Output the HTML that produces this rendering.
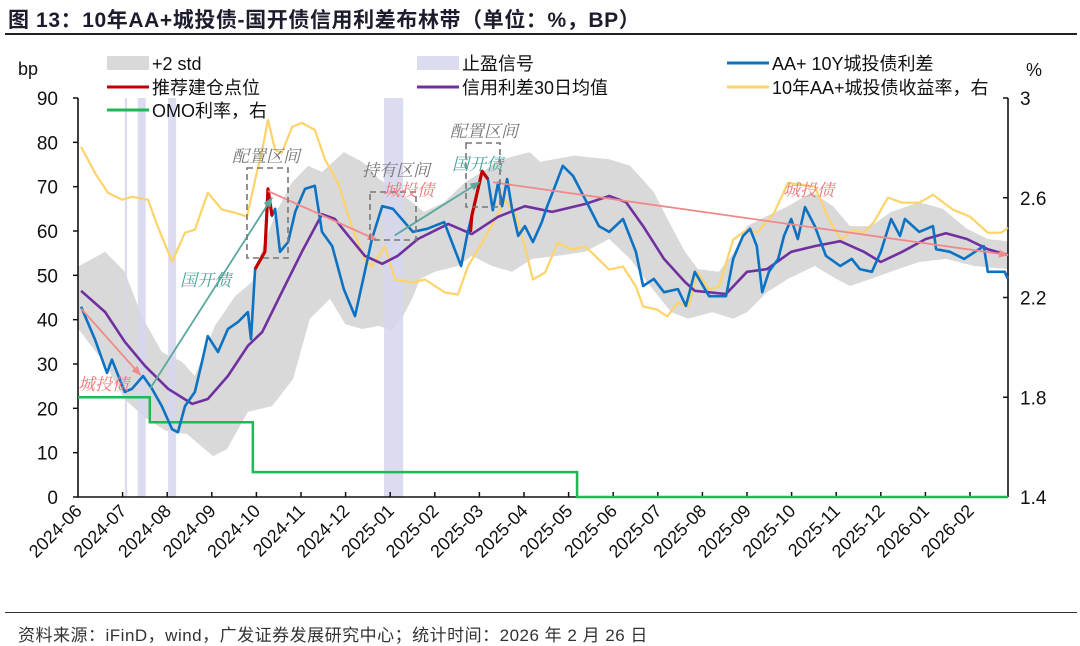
<!DOCTYPE html>
<html><head><meta charset="utf-8">
<style>
html,body{margin:0;padding:0;background:#fff;}
body{width:1080px;height:646px;position:relative;overflow:hidden;font-family:"Liberation Sans","Noto Sans CJK SC",sans-serif;}
#title{position:absolute;left:8px;top:4px;font-size:21px;font-weight:bold;color:#1c1c2c;white-space:nowrap;letter-spacing:0.6px;}
#tline{position:absolute;left:5px;top:33px;width:1072px;height:2px;background:#222;}
#fline{position:absolute;left:5px;top:612px;width:1072px;height:1px;background:#333;}
#src{position:absolute;left:18px;top:621px;font-size:17px;color:#333;white-space:nowrap;letter-spacing:0.5px;}
svg{position:absolute;left:0;top:0;}
</style></head><body>
<div id="title">图 13：10年AA+城投债-国开债信用利差布林带（单位：%，BP）</div>
<div id="tline"></div>
<svg id="chart" width="1080" height="646"></svg>
<div id="fline"></div>
<div id="src">资料来源：iFinD，wind，广发证券发展研究中心；统计时间：2026 年 2 月 26 日</div>
<script>
// ---- data (t = months since 2024-06) ----
const monthLabels=["2024-06","2024-07","2024-08","2024-09","2024-10","2024-11","2024-12","2025-01","2025-02","2025-03","2025-04","2025-05","2025-06","2025-07","2025-08","2025-09","2025-10","2025-11","2025-12","2026-01","2026-02"];
const leftTicks=[0,10,20,30,40,50,60,70,80,90];
const rightTicks=[1.4,1.8,2.2,2.6,3];
const rightTickLabels=["1.4","1.8","2.2","2.6","3"];
const blueT=[0.07,0.38,0.56,0.65,0.76,1.05,1.21,1.46,1.66,1.88,2.11,2.24,2.40,2.62,2.78,2.91,3.14,3.36,3.59,3.81,3.88,3.97,4.19,4.26,4.35,4.42,4.53,4.71,4.87,5.09,5.31,5.47,5.70,5.96,6.21,6.43,6.59,6.82,7.06,7.51,7.83,8.21,8.59,8.74,8.83,9.06,9.19,9.30,9.42,9.51,9.62,9.73,9.87,10.02,10.20,10.40,10.52,10.70,10.87,11.10,11.37,11.68,11.91,12.22,12.51,12.67,12.91,13.14,13.45,13.63,13.83,14.15,14.53,14.69,14.91,15.07,15.22,15.34,15.49,15.70,15.83,15.99,16.14,16.30,16.52,16.77,17.09,17.35,17.53,17.80,18.00,18.23,18.43,18.54,18.86,19.17,19.24,19.55,19.87,20.31,20.40,20.78,20.85];
const blueV=[42.9,35.6,30.5,28,31,23.7,24.4,27.3,24.4,20.5,15.3,14.6,20.5,23.7,30.5,36.3,32.7,37.9,39.5,41.7,35.6,51.4,55.3,69.5,63.4,65,55.3,57.5,64.3,69.5,70.2,59.8,56.6,46.9,40.8,50.8,58.2,65.6,65,59.8,60.5,62,52.1,59.8,63.4,73.5,71.7,64.7,70.9,65.6,71.7,65,58.9,61.1,57.5,62,65.6,70.2,74.7,72.4,67.2,61.1,59.8,62.7,55.3,47.6,49.2,46.2,46.9,43.1,50.8,45.3,45.3,53.7,58.9,60.5,56.6,46.2,50.8,53.7,58.9,62.7,58.2,65.4,61.1,54.4,52.1,53.7,51.4,50.8,55.3,62.7,58.9,62.7,59.8,61.1,55.9,55.3,53.7,56.6,50.8,50.8,49.2];
const red1T=[3.97,4.19,4.26,4.35];
const red1V=[51.4,55.3,69.5,63.4];
const red2T=[8.80,8.83,9.06,9.19];
const red2V=[59.8,63.4,73.5,71.7];
const purpleT=[0.07,0.61,1.05,1.50,2.02,2.56,2.91,3.36,3.81,4.13,4.57,5.02,5.47,5.76,5.99,6.43,6.82,7.17,7.62,8.30,8.83,9.42,10.02,10.63,11.37,11.91,12.29,12.67,13.14,13.61,13.83,14.53,15.00,15.45,15.99,16.52,17.09,17.62,18.00,18.48,19.01,19.46,19.93,20.40,20.85];
const purpleV=[46.5,41.7,35,29.6,24.4,21,22.1,27.3,34.1,37.2,46.2,55.3,63.8,62.7,59.8,54.4,52.6,54.4,58.2,61.6,59.3,63.2,65.6,64.3,66.1,67.9,66.5,61.1,53.7,48.5,46.5,45.8,50.8,51.4,55.3,56.6,57.7,55.3,53,55.3,58.2,59.5,58.2,55.9,54.6];
const yieldT=[0.07,0.38,0.67,0.99,1.21,1.57,1.79,2.11,2.40,2.62,2.91,3.23,3.52,3.79,3.97,4.13,4.26,4.42,4.57,4.80,5.02,5.31,5.54,5.83,6.14,6.43,6.59,6.88,7.11,7.49,7.78,8.23,8.52,8.74,9.06,9.35,9.57,9.80,10.02,10.20,10.47,10.76,11.08,11.37,11.52,11.91,12.22,12.51,12.67,12.98,13.21,13.45,13.68,13.90,14.15,14.37,14.69,15.00,15.22,15.61,15.92,16.23,16.52,16.84,17.11,17.38,17.62,17.85,18.16,18.48,18.86,19.17,19.62,20.00,20.40,20.70,20.85];
const yieldV=[2.804,2.70,2.62,2.592,2.604,2.592,2.484,2.344,2.46,2.472,2.62,2.552,2.54,2.524,2.672,2.792,2.912,2.792,2.78,2.884,2.9,2.872,2.752,2.66,2.484,2.352,2.324,2.404,2.272,2.26,2.272,2.22,2.212,2.324,2.42,2.512,2.592,2.54,2.404,2.272,2.3,2.42,2.392,2.404,2.38,2.312,2.324,2.244,2.164,2.152,2.124,2.18,2.164,2.3,2.232,2.244,2.432,2.472,2.46,2.54,2.66,2.652,2.644,2.512,2.432,2.472,2.46,2.504,2.6,2.58,2.58,2.612,2.552,2.524,2.46,2.46,2.48];
const upperT=[0,0.61,1.05,1.43,1.88,2.33,2.62,3.07,3.52,3.90,4.13,4.42,4.80,5.16,5.47,5.96,6.37,6.75,7.20,7.76,8.21,8.68,9.06,9.44,10.13,10.36,11.12,11.91,12.38,12.91,13.30,13.61,13.90,14.37,14.69,15.00,15.45,15.92,16.46,16.93,17.31,17.78,18.23,18.86,19.39,19.93,20.40,20.85];
const upperV=[52,55.3,50.8,40.8,32.7,30.5,27.3,38.6,45.3,48.5,55.9,63.8,71,74.7,73.3,77.8,75.6,71.7,68.8,64.3,66.5,71,73.3,76,77.8,75.6,77,76.2,74.7,68.8,61.1,55.3,51.4,50.8,55,61.1,63.4,65.6,68.8,65.6,61.1,61.1,64.3,66.5,65,60.5,58.2,57.7];
const lowerT=[0,0.61,1.05,1.50,1.95,2.44,3.03,3.34,3.81,4.35,4.82,5.20,5.65,5.99,6.37,6.75,7.04,7.29,7.49,7.67,8.00,8.52,8.83,9.28,9.73,10.18,10.76,11.37,11.91,12.38,12.83,13.30,13.68,14.22,14.69,15.00,15.45,15.92,16.52,17.00,17.31,17.78,18.39,18.86,19.46,20.09,20.85];
const lowerV=[38,30,22,18,15,14.2,9.2,10.8,19.2,20.5,26.6,40.2,44.7,39,37.9,38.6,37.5,40.8,44.7,49.2,50.8,52.1,54.4,52.1,50.8,53.7,54.4,55.3,58.2,53.7,47.6,41.7,40.2,41.7,40.2,41.7,46.2,49.2,52.1,49.2,47.6,49.2,51.4,53,53.7,52.1,51.4];
const omoT=[0,1.61,3.92,11.19,20.85];
const omoV=[1.8,1.7,1.5,1.4,1.4];
const stopStart=[1.05,1.34,2.02,6.86];
const stopEnd=[1.10,1.52,2.20,7.29];

// ---- scales ----
const X0=78,X1=1008,Y0=497,Y1=98;
const PXM=44.6;
const xs=t=>X0+t*PXM;
const yl=v=>Y0-(v/90)*(Y0-Y1);
const yr=v=>Y0-((v-1.4)/1.6)*(Y0-Y1);
const svg=document.getElementById('chart');
const NS='http://www.w3.org/2000/svg';
function mk(tag,attrs,parent){const e=document.createElementNS(NS,tag);for(const k in attrs)e.setAttribute(k,attrs[k]);(parent||svg).appendChild(e);return e;}
function pts(T,V,ys){return T.map((t,i)=>xs(t).toFixed(1)+','+ys(V[i]).toFixed(1)).join(' ');}
const FONT='"Liberation Sans","Noto Sans CJK SC",sans-serif';
const SERIF='"Liberation Serif","Noto Serif CJK SC",serif';

// band
let bandPts=pts(upperT,upperV,yl)+' '+pts(lowerT.slice().reverse(),lowerV.slice().reverse(),yl);
const band=mk('polygon',{points:bandPts,fill:'#d9d9d9'});



// stop-profit bars
stopStart.forEach((s,i)=>{
  const r=mk('rect',{x:xs(s),y:Y1,width:Math.max(2,xs(stopEnd[i])-xs(s)),height:Y0-Y1,fill:'#d6d6ee',opacity:0.85});
  
  
});

// axes
const ax=mk('path',{d:`M${X0},${Y1} L${X0},${Y0} L${X1},${Y0} M${X1},${Y1} L${X1},${Y0}`,stroke:'#111',fill:'none','stroke-width':1.6});


leftTicks.forEach(v=>{
  mk('line',{x1:X0-5,x2:X0,y1:yl(v),y2:yl(v),stroke:'#111','stroke-width':1.5});
  const t=mk('text',{x:58,y:yl(v)+7,'text-anchor':'end','font-size':19,'font-family':FONT,fill:'#111'});
  t.textContent=v;
  
  
});
rightTicks.forEach((v,i)=>{
  mk('line',{x1:X1,x2:X1-5,y1:yr(v),y2:yr(v),stroke:'#111','stroke-width':1.5});
  const t=mk('text',{x:1020,y:yr(v)+7,'font-size':19,'font-family':FONT,fill:'#111'});
  t.textContent=rightTickLabels[i];
  
  
});
monthLabels.forEach((m,i)=>{
  const x=xs(i);
  if(i>0) mk('line',{x1:x,x2:x,y1:Y0,y2:Y0-5,stroke:'#111','stroke-width':1.5});
  const t=mk('text',{x:x+5,y:Y0+15,'text-anchor':'end','font-size':18,'font-family':FONT,fill:'#111',transform:`rotate(-45 ${x+5} ${Y0+15})`});
  t.textContent=m;
  
  
});
const bp=mk('text',{x:18,y:75,'font-size':18,'font-family':FONT,fill:'#111'});bp.textContent='bp';


const pc=mk('text',{x:1026,y:76,'font-size':18,'font-family':FONT,fill:'#111'});pc.textContent='%';



// OMO step line
let omoD='';
omoT.forEach((t,i)=>{
  if(i===0) omoD+=`M${xs(t)},${yr(omoV[0])}`;
  else omoD+=` L${xs(t)},${yr(omoV[i-1])} L${xs(t)},${yr(omoV[i])}`;
});
const omo=mk('path',{d:omoD,stroke:'#1db954',fill:'none','stroke-width':2.5});



// lines
const yl1=mk('polyline',{points:pts(yieldT,yieldV,yr),stroke:'#fdd36a',fill:'none','stroke-width':2.2,'stroke-linejoin':'round'});


const pl=mk('polyline',{points:pts(purpleT,purpleV,yl),stroke:'#7030a0',fill:'none','stroke-width':2.6,'stroke-linejoin':'round'});


const bl=mk('polyline',{points:pts(blueT,blueV,yl),stroke:'#0b72c4',fill:'none','stroke-width':2.6,'stroke-linejoin':'round'});


[[red1T,red1V],[red2T,red2V]].forEach(([T,V])=>{
  const r=mk('polyline',{points:pts(T,V,yl),stroke:'#c00000',fill:'none','stroke-width':3.2,'stroke-linejoin':'round'});
  
  
});

// annotations
const defs=mk('defs',{});
function marker(id,col){const m=mk('marker',{id:id,markerWidth:10,markerHeight:8,refX:9,refY:4,orient:'auto',markerUnits:'userSpaceOnUse'},defs);mk('path',{d:'M0,0 L10,4 L0,8 z',fill:col},m);}
marker('ap','#f08a8a');marker('at','#5aa8a0');
function arrow(t1,v1,t2,v2,col,id,name){const l=mk('line',{x1:xs(t1),y1:yl(v1),x2:xs(t2),y2:yl(v2),stroke:col,'stroke-width':1.8,'marker-end':`url(#${id})`});}
arrow(0.07,42.5,1.4,27.5,'#f08a8a','ap','chengtou-arrow');
arrow(4.26,69,6.7,58,'#f08a8a','ap','chengtou-arrow');
arrow(9.3,71,20.85,54.6,'#f08a8a','ap','chengtou-arrow');
arrow(1.62,24.5,4.35,67.5,'#5aa8a0','at','cdb-arrow');
arrow(7.1,59,9.0,71,'#5aa8a0','at','cdb-arrow');
function dbox(x,y,w,h){const r=mk('rect',{x,y,width:w,height:h,fill:'none',stroke:'#777','stroke-width':1.6,'stroke-dasharray':'6,4'});}
dbox(247,168,41,90);dbox(370,192,46,48);dbox(466,143,34,64);
function lab(x,y,s,col,size,name){const t=mk('text',{x,y,'font-size':size||17,'font-family':SERIF,'font-style':'italic',fill:col});t.textContent=s;}
lab(232,162,'配置区间','#777',17,'allocation-zone-label');
lab(362,176,'持有区间','#777',17,'holding-zone-label');
lab(450,137,'配置区间','#777',17,'allocation-zone-label');
lab(383,196,'城投债','#f07878',17,'chengtou-label');
lab(452,170,'国开债','#4aa39a',17,'cdb-label');
lab(180,286,'国开债','#4aa39a',17,'cdb-label');
lab(78,390,'城投债','#f07878',17,'chengtou-label');
lab(783,196,'城投债','#f07878',17,'chengtou-label');

// legend
function legend(x,y,type,col,txt,name){
  const g=mk('g',{});
  
  
  if(type==='box') mk('rect',{x:x,y:y-7,width:42,height:14,fill:col},g);
  else mk('line',{x1:x,x2:x+42,y1:y,y2:y,stroke:col,'stroke-width':3},g);
  const t=mk('text',{x:x+45,y:y+7,'font-size':18,'font-family':FONT,fill:'#111'},g);t.textContent=txt;
}
legend(107,63,'box','#d9d9d9','+2 std','legend-band');
legend(417,63,'box','#dcdcf0','止盈信号','legend-stop-profit');
legend(727,63,'line','#0b72c4','AA+ 10Y城投债利差','legend-spread');
legend(107,87,'line','#c00000','推荐建仓点位','legend-entry-point');
legend(417,87,'line','#7030a0','信用利差30日均值','legend-mean');
legend(727,87,'line','#fdd36a','10年AA+城投债收益率，右','legend-yield');
legend(107,110,'line','#1db954','OMO利率，右','legend-omo');
</script>
</body></html>
